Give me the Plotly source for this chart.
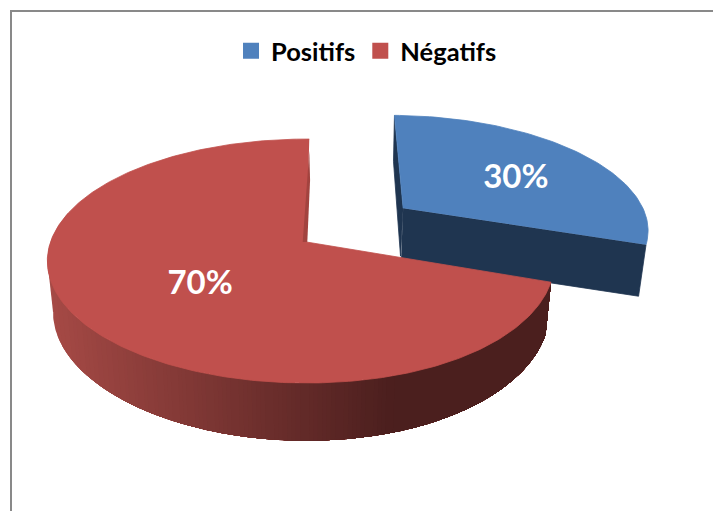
import numpy as np
import plotly.graph_objects as go

categories = ["Positifs", "Négatifs"]
values = [30, 70]
top_colors = ["#4F81BD", "#C0504D"]
BLUE_WALL = "#1F3550"
RED_SLIVER = "#A2433F"
WALL_LIGHT = np.array([0xA6, 0x4A, 0x46])
WALL_DARK = np.array([0x4B, 0x1F, 0x1E])

W, H = 713, 511
CX, CY = 306.5, 242.0
A, B, P = 256.0, 119.0, 0.156
ROT_RED, ROT_BLUE = 0.72, 1.0
EXPLODE = (0.395, -0.2963)
R_BLUE = 0.98


def project(u, v):
    d = 1 - P * v
    return CX + A * u / d, CY + B * v / d


def drop(x, y):
    dy = y - CY
    return CX + (x - CX) * 0.978, y + 51.5 + 6.2 * (dy / 141.0) ** 2


def rim(a_deg, rot, r=1.0, off=(0.0, 0.0)):
    t = np.radians(np.asarray(a_deg, dtype=float) + rot)
    return project(off[0] + r * np.sin(t), off[1] - r * np.cos(t))


def squeeze_right(x):
    dx = np.maximum(x - CX, 0)
    return x - dx * 0.042 * dx / 255.0


def poly(x, y, color, line=0.8):
    return go.Scatter(
        x=list(x), y=list(y), mode="lines", fill="toself", fillcolor=color,
        line=dict(color=color, width=line), showlegend=False, hoverinfo="skip",
    )


share_blue = values[0] / sum(values) * 360
fig = go.Figure()

# Blue slice: wall, inner sliver, top
ax, ay = project(*EXPLODE)
bx, by = rim(np.linspace(0, share_blue, 80), ROT_BLUE, R_BLUE, EXPLODE)
abx, aby = drop(ax, ay)
cbx, cby = drop(bx[-1], by[-1])
fig.add_trace(poly([ax, bx[-1], cbx, abx], [ay, by[-1], cby, aby], BLUE_WALL))
fig.add_trace(poly([bx[0], bx[0] - 1, abx - 0.5, ax], [by[0], by[0] + 46, aby - 4, ay], BLUE_WALL))
fig.add_trace(poly([ax, *bx], [ay, *by], top_colors[0]))

# Red slice: curved wall, painted in overlapping bands from light (left) to dark (right)
angles = np.linspace(share_blue, 360, 300)
rx, ry = rim(angles, ROT_RED)
rx = squeeze_right(rx)
dx, dy = drop(rx, ry)
front = ry > CY - 30
wx, wy, wdx, wdy = rx[front], ry[front], dx[front], dy[front]

# left silhouette: tangent from the top rim's leftmost point to the lower rim's leftmost point
il, jl = np.argmin(wx), np.argmin(wdx)
fig.add_trace(poly([wx[il], wdx[jl], CX], [wy[il], wdy[jl], CY], "rgb(166,74,70)", line=0))

N_BANDS = 70
cuts = np.linspace(wx.min(), 395, N_BANDS)
for k, cut in enumerate(cuts):
    f = k / (N_BANDS - 1)
    c = WALL_LIGHT + (WALL_DARK - WALL_LIGHT) * f
    col = "rgb(%d,%d,%d)" % tuple(c)
    # first angular index (from the right corner) where the rim passes left of this cut
    idx = np.argmax(wx <= cut) if k else len(wx) - 1
    idx = max(idx, 1)
    fig.add_trace(poly(
        np.r_[wx[: idx + 1], wdx[: idx + 1][::-1]],
        np.r_[wy[: idx + 1], wdy[: idx + 1][::-1]],
        col, line=0,
    ))

fig.add_trace(poly([CX, *rx], [CY, *ry], top_colors[1]))
# dark sliver along the red slice's upper cut
qx, qy = rx[-1], ry[-1]
fig.add_trace(poly(
    [qx, qx + 0.8, CX + 0.8, CX - 3.8],
    [qy + 12, qy + 41, CY, CY],
    RED_SLIVER, line=0,
))

# Percentage labels
mid_blue = share_blue / 2
mid_red = share_blue + (360 - share_blue) / 2
lx1, ly1 = rim(mid_blue, ROT_BLUE, 0.6, EXPLODE)
lx2, ly2 = rim(mid_red, ROT_RED, 0.5)
fig.add_trace(go.Scatter(
    x=[lx1 + 3, lx2 + 3], y=[ly1 + 7, ly2 + 8], mode="text",
    text=[f"{v}%" for v in values], textposition="middle center",
    textfont=dict(family="Lato", size=33, color="white", weight="bold"),
    showlegend=False, hoverinfo="skip",
))

# Legend entries
for name, col in zip(categories, top_colors):
    fig.add_trace(go.Scatter(
        x=[None], y=[None], mode="markers", name=name,
        marker=dict(symbol="square", size=16, color=col),
    ))

fig.update_layout(
    width=W, height=H, autosize=False,
    margin=dict(l=0, r=0, t=0, b=0),
    paper_bgcolor="white", plot_bgcolor="white",
    xaxis=dict(range=[0, W], visible=False, fixedrange=True),
    yaxis=dict(range=[H, 0], visible=False, fixedrange=True),
    legend=dict(
        orientation="h", x=0.324, xanchor="left", y=0.9, yanchor="middle",
        font=dict(family="Lato", size=25.5, color="black", weight="bold"),
        itemwidth=30, bgcolor="rgba(0,0,0,0)",
    ),
    shapes=[
        dict(type="line", xref="x", yref="y", x0=11, x1=W, y0=11, y1=11,
             line=dict(color="#898989", width=2)),
        dict(type="line", xref="x", yref="y", x0=11, x1=11, y0=10, y1=H,
             line=dict(color="#898989", width=2)),
    ],
)
fig.write_html(
    "out.html", config=dict(displayModeBar=False),
    post_script="document.body.style.margin='0';document.documentElement.style.overflow='hidden';",
)
